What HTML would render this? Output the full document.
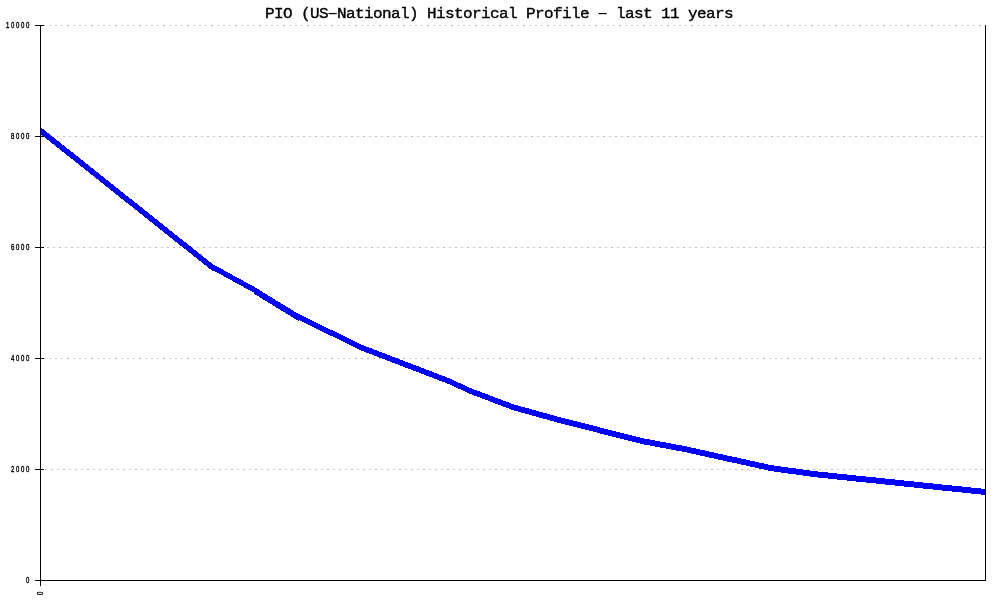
<!DOCTYPE html>
<html><head><meta charset="utf-8"><title>PIO (US-National) Historical Profile - last 11 years</title>
<style>
html,body{margin:0;padding:0;background:#fff;overflow:hidden}
svg{display:block}
.t{font-family:"Liberation Mono","DejaVu Sans Mono",monospace;font-weight:bold;font-size:15px;fill:#000}
.s{font-family:"Liberation Sans","DejaVu Sans",sans-serif;font-weight:normal;font-size:8.4px;fill:#000;stroke:#000}
</style></head><body>
<svg width="1000" height="600" viewBox="0 0 1000 600">
<rect width="1000" height="600" fill="#fff"/>

<g shape-rendering="crispEdges" stroke="#bebebe" stroke-width="1" stroke-dasharray="2 4">
<line x1="43" y1="25.5" x2="985" y2="25.5"/>
<line x1="45" y1="136.5" x2="985" y2="136.5"/>
<line x1="47" y1="247.5" x2="985" y2="247.5"/>
<line x1="43" y1="358.5" x2="985" y2="358.5"/>
<line x1="45" y1="469.5" x2="985" y2="469.5"/>
</g>
<g shape-rendering="crispEdges" fill="#0000ff">
<rect x="40" y="127" width="1" height="7"/>
<rect x="41" y="128" width="1" height="7"/>
<rect x="42" y="129" width="2" height="7"/>
<rect x="44" y="130" width="1" height="7"/>
<rect x="45" y="131" width="1" height="7"/>
<rect x="46" y="132" width="1" height="7"/>
<rect x="47" y="133" width="2" height="7"/>
<rect x="49" y="134" width="1" height="7"/>
<rect x="50" y="135" width="1" height="7"/>
<rect x="51" y="136" width="1" height="7"/>
<rect x="52" y="137" width="2" height="7"/>
<rect x="54" y="138" width="1" height="7"/>
<rect x="55" y="139" width="1" height="7"/>
<rect x="56" y="140" width="1" height="7"/>
<rect x="57" y="141" width="2" height="7"/>
<rect x="59" y="142" width="1" height="7"/>
<rect x="60" y="143" width="1" height="7"/>
<rect x="61" y="144" width="1" height="7"/>
<rect x="62" y="145" width="2" height="7"/>
<rect x="64" y="146" width="1" height="7"/>
<rect x="65" y="147" width="1" height="7"/>
<rect x="66" y="148" width="1" height="7"/>
<rect x="67" y="149" width="2" height="7"/>
<rect x="69" y="150" width="1" height="7"/>
<rect x="70" y="151" width="1" height="7"/>
<rect x="71" y="152" width="2" height="7"/>
<rect x="73" y="153" width="1" height="7"/>
<rect x="74" y="154" width="1" height="7"/>
<rect x="75" y="155" width="1" height="7"/>
<rect x="76" y="156" width="2" height="7"/>
<rect x="78" y="157" width="1" height="7"/>
<rect x="79" y="158" width="1" height="7"/>
<rect x="80" y="159" width="1" height="7"/>
<rect x="81" y="160" width="2" height="7"/>
<rect x="83" y="161" width="1" height="7"/>
<rect x="84" y="162" width="1" height="7"/>
<rect x="85" y="163" width="1" height="7"/>
<rect x="86" y="164" width="2" height="7"/>
<rect x="88" y="165" width="1" height="7"/>
<rect x="89" y="166" width="1" height="7"/>
<rect x="90" y="167" width="1" height="7"/>
<rect x="91" y="168" width="2" height="7"/>
<rect x="93" y="169" width="1" height="7"/>
<rect x="94" y="170" width="1" height="7"/>
<rect x="95" y="171" width="1" height="7"/>
<rect x="96" y="172" width="2" height="7"/>
<rect x="98" y="173" width="1" height="7"/>
<rect x="99" y="174" width="1" height="7"/>
<rect x="100" y="175" width="1" height="7"/>
<rect x="101" y="176" width="2" height="7"/>
<rect x="103" y="177" width="1" height="7"/>
<rect x="104" y="178" width="1" height="7"/>
<rect x="105" y="179" width="1" height="7"/>
<rect x="106" y="180" width="2" height="7"/>
<rect x="108" y="181" width="1" height="7"/>
<rect x="109" y="182" width="1" height="7"/>
<rect x="110" y="183" width="1" height="7"/>
<rect x="111" y="184" width="2" height="7"/>
<rect x="113" y="185" width="1" height="7"/>
<rect x="114" y="186" width="1" height="7"/>
<rect x="115" y="187" width="1" height="7"/>
<rect x="116" y="188" width="2" height="7"/>
<rect x="118" y="189" width="1" height="7"/>
<rect x="119" y="190" width="1" height="7"/>
<rect x="120" y="191" width="1" height="7"/>
<rect x="121" y="192" width="2" height="7"/>
<rect x="123" y="193" width="1" height="7"/>
<rect x="124" y="194" width="1" height="7"/>
<rect x="125" y="195" width="1" height="7"/>
<rect x="126" y="196" width="2" height="7"/>
<rect x="128" y="197" width="1" height="7"/>
<rect x="129" y="198" width="1" height="7"/>
<rect x="130" y="199" width="2" height="7"/>
<rect x="132" y="200" width="1" height="7"/>
<rect x="133" y="201" width="1" height="7"/>
<rect x="134" y="202" width="1" height="7"/>
<rect x="135" y="203" width="2" height="7"/>
<rect x="137" y="204" width="1" height="7"/>
<rect x="138" y="205" width="1" height="7"/>
<rect x="139" y="206" width="1" height="7"/>
<rect x="140" y="207" width="2" height="7"/>
<rect x="142" y="208" width="1" height="7"/>
<rect x="143" y="209" width="1" height="7"/>
<rect x="144" y="210" width="1" height="7"/>
<rect x="145" y="211" width="2" height="7"/>
<rect x="147" y="212" width="1" height="7"/>
<rect x="148" y="213" width="1" height="7"/>
<rect x="149" y="214" width="1" height="7"/>
<rect x="150" y="215" width="2" height="7"/>
<rect x="152" y="216" width="1" height="7"/>
<rect x="153" y="217" width="1" height="7"/>
<rect x="154" y="218" width="1" height="7"/>
<rect x="155" y="219" width="2" height="7"/>
<rect x="157" y="220" width="1" height="7"/>
<rect x="158" y="221" width="1" height="7"/>
<rect x="159" y="222" width="1" height="7"/>
<rect x="160" y="223" width="2" height="7"/>
<rect x="162" y="224" width="1" height="7"/>
<rect x="163" y="225" width="1" height="7"/>
<rect x="164" y="226" width="1" height="7"/>
<rect x="165" y="227" width="2" height="7"/>
<rect x="167" y="228" width="1" height="7"/>
<rect x="168" y="229" width="1" height="7"/>
<rect x="169" y="230" width="1" height="7"/>
<rect x="170" y="231" width="2" height="7"/>
<rect x="172" y="232" width="1" height="7"/>
<rect x="173" y="233" width="1" height="7"/>
<rect x="174" y="234" width="1" height="7"/>
<rect x="175" y="235" width="2" height="7"/>
<rect x="177" y="236" width="1" height="7"/>
<rect x="178" y="237" width="1" height="7"/>
<rect x="179" y="238" width="1" height="7"/>
<rect x="180" y="239" width="2" height="7"/>
<rect x="182" y="240" width="1" height="7"/>
<rect x="183" y="241" width="1" height="7"/>
<rect x="184" y="242" width="2" height="7"/>
<rect x="186" y="243" width="1" height="7"/>
<rect x="187" y="244" width="1" height="7"/>
<rect x="188" y="245" width="1" height="7"/>
<rect x="189" y="246" width="2" height="7"/>
<rect x="191" y="247" width="1" height="7"/>
<rect x="192" y="248" width="1" height="7"/>
<rect x="193" y="249" width="1" height="7"/>
<rect x="194" y="250" width="2" height="7"/>
<rect x="196" y="251" width="1" height="7"/>
<rect x="197" y="252" width="1" height="7"/>
<rect x="198" y="253" width="1" height="7"/>
<rect x="199" y="254" width="2" height="7"/>
<rect x="201" y="255" width="1" height="7"/>
<rect x="202" y="256" width="1" height="7"/>
<rect x="203" y="257" width="1" height="7"/>
<rect x="204" y="258" width="2" height="7"/>
<rect x="206" y="259" width="1" height="7"/>
<rect x="207" y="260" width="1" height="7"/>
<rect x="208" y="261" width="1" height="7"/>
<rect x="209" y="262" width="2" height="7"/>
<rect x="211" y="263" width="1" height="7"/>
<rect x="212" y="264" width="1" height="7"/>
<rect x="213" y="265" width="2" height="6"/>
<rect x="215" y="266" width="2" height="6"/>
<rect x="217" y="267" width="2" height="6"/>
<rect x="219" y="268" width="2" height="6"/>
<rect x="221" y="269" width="2" height="6"/>
<rect x="223" y="270" width="1" height="6"/>
<rect x="224" y="271" width="2" height="6"/>
<rect x="226" y="272" width="2" height="6"/>
<rect x="228" y="273" width="2" height="6"/>
<rect x="230" y="274" width="2" height="6"/>
<rect x="232" y="275" width="1" height="6"/>
<rect x="233" y="276" width="2" height="6"/>
<rect x="235" y="277" width="2" height="6"/>
<rect x="237" y="278" width="2" height="6"/>
<rect x="239" y="279" width="2" height="6"/>
<rect x="241" y="280" width="2" height="6"/>
<rect x="243" y="281" width="1" height="6"/>
<rect x="244" y="282" width="2" height="6"/>
<rect x="246" y="283" width="2" height="6"/>
<rect x="248" y="284" width="2" height="6"/>
<rect x="250" y="285" width="2" height="6"/>
<rect x="252" y="286" width="2" height="6"/>
<rect x="254" y="287" width="1" height="7"/>
<rect x="255" y="288" width="2" height="7"/>
<rect x="257" y="289" width="2" height="7"/>
<rect x="259" y="290" width="1" height="7"/>
<rect x="260" y="291" width="2" height="7"/>
<rect x="262" y="292" width="1" height="7"/>
<rect x="263" y="293" width="2" height="7"/>
<rect x="265" y="294" width="2" height="7"/>
<rect x="267" y="295" width="1" height="7"/>
<rect x="268" y="296" width="2" height="7"/>
<rect x="270" y="297" width="2" height="7"/>
<rect x="272" y="298" width="1" height="7"/>
<rect x="273" y="299" width="2" height="7"/>
<rect x="275" y="300" width="1" height="7"/>
<rect x="276" y="301" width="2" height="7"/>
<rect x="278" y="302" width="2" height="7"/>
<rect x="280" y="303" width="1" height="7"/>
<rect x="281" y="304" width="2" height="7"/>
<rect x="283" y="305" width="2" height="7"/>
<rect x="285" y="306" width="1" height="7"/>
<rect x="286" y="307" width="2" height="7"/>
<rect x="288" y="308" width="2" height="7"/>
<rect x="290" y="309" width="1" height="7"/>
<rect x="291" y="310" width="2" height="7"/>
<rect x="293" y="311" width="1" height="7"/>
<rect x="294" y="312" width="2" height="7"/>
<rect x="296" y="313" width="2" height="7"/>
<rect x="298" y="314" width="1" height="7"/>
<rect x="299" y="314" width="1" height="6"/>
<rect x="300" y="315" width="2" height="6"/>
<rect x="302" y="316" width="2" height="6"/>
<rect x="304" y="317" width="2" height="6"/>
<rect x="306" y="318" width="2" height="6"/>
<rect x="308" y="319" width="2" height="6"/>
<rect x="310" y="320" width="2" height="6"/>
<rect x="312" y="321" width="2" height="6"/>
<rect x="314" y="322" width="2" height="6"/>
<rect x="316" y="323" width="2" height="6"/>
<rect x="318" y="324" width="2" height="6"/>
<rect x="320" y="325" width="2" height="6"/>
<rect x="322" y="326" width="2" height="6"/>
<rect x="324" y="327" width="2" height="6"/>
<rect x="326" y="328" width="2" height="6"/>
<rect x="328" y="329" width="2" height="6"/>
<rect x="330" y="330" width="3" height="6"/>
<rect x="333" y="331" width="2" height="6"/>
<rect x="335" y="332" width="2" height="6"/>
<rect x="337" y="333" width="2" height="6"/>
<rect x="339" y="334" width="2" height="6"/>
<rect x="341" y="335" width="2" height="6"/>
<rect x="343" y="336" width="2" height="6"/>
<rect x="345" y="337" width="2" height="6"/>
<rect x="347" y="338" width="2" height="6"/>
<rect x="349" y="339" width="2" height="6"/>
<rect x="351" y="340" width="2" height="6"/>
<rect x="353" y="341" width="2" height="6"/>
<rect x="355" y="342" width="2" height="6"/>
<rect x="357" y="343" width="2" height="6"/>
<rect x="359" y="344" width="2" height="6"/>
<rect x="361" y="345" width="3" height="6"/>
<rect x="364" y="346" width="2" height="6"/>
<rect x="366" y="347" width="3" height="6"/>
<rect x="369" y="348" width="3" height="6"/>
<rect x="372" y="349" width="2" height="6"/>
<rect x="374" y="350" width="3" height="6"/>
<rect x="377" y="351" width="2" height="6"/>
<rect x="379" y="352" width="3" height="6"/>
<rect x="382" y="353" width="3" height="6"/>
<rect x="385" y="354" width="2" height="6"/>
<rect x="387" y="355" width="3" height="6"/>
<rect x="390" y="356" width="2" height="6"/>
<rect x="392" y="357" width="3" height="6"/>
<rect x="395" y="358" width="3" height="6"/>
<rect x="398" y="359" width="2" height="6"/>
<rect x="400" y="360" width="3" height="6"/>
<rect x="403" y="361" width="2" height="6"/>
<rect x="405" y="362" width="3" height="6"/>
<rect x="408" y="363" width="3" height="6"/>
<rect x="411" y="364" width="2" height="6"/>
<rect x="413" y="365" width="3" height="6"/>
<rect x="416" y="366" width="3" height="6"/>
<rect x="419" y="367" width="2" height="6"/>
<rect x="421" y="368" width="3" height="6"/>
<rect x="424" y="369" width="2" height="6"/>
<rect x="426" y="370" width="3" height="6"/>
<rect x="429" y="371" width="3" height="6"/>
<rect x="432" y="372" width="2" height="6"/>
<rect x="434" y="373" width="3" height="6"/>
<rect x="437" y="374" width="2" height="6"/>
<rect x="439" y="375" width="3" height="6"/>
<rect x="442" y="376" width="3" height="6"/>
<rect x="445" y="377" width="2" height="6"/>
<rect x="447" y="378" width="3" height="6"/>
<rect x="450" y="379" width="2" height="6"/>
<rect x="452" y="380" width="2" height="6"/>
<rect x="454" y="381" width="2" height="6"/>
<rect x="456" y="382" width="2" height="6"/>
<rect x="458" y="383" width="3" height="6"/>
<rect x="461" y="384" width="2" height="6"/>
<rect x="463" y="385" width="2" height="6"/>
<rect x="465" y="386" width="2" height="6"/>
<rect x="467" y="387" width="2" height="6"/>
<rect x="469" y="388" width="3" height="6"/>
<rect x="472" y="389" width="2" height="6"/>
<rect x="474" y="390" width="3" height="6"/>
<rect x="477" y="391" width="3" height="6"/>
<rect x="480" y="392" width="2" height="6"/>
<rect x="482" y="393" width="3" height="6"/>
<rect x="485" y="394" width="3" height="6"/>
<rect x="488" y="395" width="2" height="6"/>
<rect x="490" y="396" width="3" height="6"/>
<rect x="493" y="397" width="2" height="6"/>
<rect x="495" y="398" width="3" height="6"/>
<rect x="498" y="399" width="3" height="6"/>
<rect x="501" y="400" width="2" height="6"/>
<rect x="503" y="401" width="3" height="6"/>
<rect x="506" y="402" width="3" height="6"/>
<rect x="509" y="403" width="2" height="6"/>
<rect x="511" y="404" width="3" height="6"/>
<rect x="514" y="405" width="4" height="6"/>
<rect x="518" y="406" width="3" height="6"/>
<rect x="521" y="407" width="4" height="6"/>
<rect x="525" y="408" width="4" height="6"/>
<rect x="529" y="409" width="3" height="6"/>
<rect x="532" y="410" width="4" height="6"/>
<rect x="536" y="411" width="3" height="6"/>
<rect x="539" y="412" width="4" height="6"/>
<rect x="543" y="413" width="4" height="6"/>
<rect x="547" y="414" width="3" height="6"/>
<rect x="550" y="415" width="4" height="6"/>
<rect x="554" y="416" width="3" height="6"/>
<rect x="557" y="417" width="4" height="6"/>
<rect x="561" y="418" width="4" height="6"/>
<rect x="565" y="419" width="4" height="6"/>
<rect x="569" y="420" width="4" height="6"/>
<rect x="573" y="421" width="4" height="6"/>
<rect x="577" y="422" width="4" height="6"/>
<rect x="581" y="423" width="4" height="6"/>
<rect x="585" y="424" width="4" height="6"/>
<rect x="589" y="425" width="4" height="6"/>
<rect x="593" y="426" width="4" height="6"/>
<rect x="597" y="427" width="3" height="6"/>
<rect x="600" y="428" width="4" height="6"/>
<rect x="604" y="429" width="4" height="6"/>
<rect x="608" y="430" width="4" height="6"/>
<rect x="612" y="431" width="4" height="6"/>
<rect x="616" y="432" width="4" height="6"/>
<rect x="620" y="433" width="4" height="6"/>
<rect x="624" y="434" width="4" height="6"/>
<rect x="628" y="435" width="4" height="6"/>
<rect x="632" y="436" width="4" height="6"/>
<rect x="636" y="437" width="4" height="6"/>
<rect x="640" y="438" width="4" height="6"/>
<rect x="644" y="439" width="6" height="6"/>
<rect x="650" y="440" width="5" height="6"/>
<rect x="655" y="441" width="5" height="6"/>
<rect x="660" y="442" width="6" height="6"/>
<rect x="666" y="443" width="5" height="6"/>
<rect x="671" y="444" width="5" height="6"/>
<rect x="676" y="445" width="6" height="6"/>
<rect x="682" y="446" width="5" height="6"/>
<rect x="687" y="447" width="4" height="6"/>
<rect x="691" y="448" width="5" height="6"/>
<rect x="696" y="449" width="4" height="6"/>
<rect x="700" y="450" width="5" height="6"/>
<rect x="705" y="451" width="4" height="6"/>
<rect x="709" y="452" width="5" height="6"/>
<rect x="714" y="453" width="4" height="6"/>
<rect x="718" y="454" width="5" height="6"/>
<rect x="723" y="455" width="4" height="6"/>
<rect x="727" y="456" width="5" height="6"/>
<rect x="732" y="457" width="5" height="6"/>
<rect x="737" y="458" width="4" height="6"/>
<rect x="741" y="459" width="5" height="6"/>
<rect x="746" y="460" width="4" height="6"/>
<rect x="750" y="461" width="5" height="6"/>
<rect x="755" y="462" width="4" height="6"/>
<rect x="759" y="463" width="5" height="6"/>
<rect x="764" y="464" width="4" height="6"/>
<rect x="768" y="465" width="6" height="6"/>
<rect x="774" y="466" width="7" height="6"/>
<rect x="781" y="467" width="7" height="6"/>
<rect x="788" y="468" width="8" height="6"/>
<rect x="796" y="469" width="7" height="6"/>
<rect x="803" y="470" width="7" height="6"/>
<rect x="810" y="471" width="8" height="6"/>
<rect x="818" y="472" width="10" height="6"/>
<rect x="828" y="473" width="9" height="6"/>
<rect x="837" y="474" width="10" height="6"/>
<rect x="847" y="475" width="9" height="6"/>
<rect x="856" y="476" width="10" height="6"/>
<rect x="866" y="477" width="10" height="6"/>
<rect x="876" y="478" width="9" height="6"/>
<rect x="885" y="479" width="10" height="6"/>
<rect x="895" y="480" width="9" height="6"/>
<rect x="904" y="481" width="10" height="6"/>
<rect x="914" y="482" width="9" height="6"/>
<rect x="923" y="483" width="10" height="6"/>
<rect x="933" y="484" width="9" height="6"/>
<rect x="942" y="485" width="10" height="6"/>
<rect x="952" y="486" width="10" height="6"/>
<rect x="962" y="487" width="9" height="6"/>
<rect x="971" y="488" width="10" height="6"/>
<rect x="981" y="489" width="5" height="6"/>
</g>
<g shape-rendering="crispEdges" fill="#000">
<rect x="40" y="25" width="1" height="556"/>
<rect x="985" y="25" width="1" height="556"/>
<rect x="40" y="580" width="946" height="1"/>
<rect x="35" y="25" width="9" height="1"/>
<rect x="35" y="136" width="9" height="1"/>
<rect x="35" y="247" width="9" height="1"/>
<rect x="35" y="358" width="9" height="1"/>
<rect x="35" y="469" width="9" height="1"/>
<rect x="35" y="580" width="9" height="1"/>
<rect x="40" y="580" width="1" height="6"/>
</g>
<text class="t" transform="translate(264.9,18) scale(1,0.95)" y="0" xml:space="preserve" style="font-size:16px;font-weight:normal;stroke:#000;stroke-width:0.38px"><tspan x="0 9 18 27 36 45 54">PIO (US</tspan><tspan x="58.92" textLength="17.76" lengthAdjust="spacingAndGlyphs" style="stroke:none">-</tspan><tspan x="72 81 90 99 108 117 126 135 144 153 162 171 180 189 198 207 216 225 234 243 252 261 270 279 288 297 306 315 324">National) Historical Profile </tspan><tspan x="328.92" textLength="17.76" lengthAdjust="spacingAndGlyphs" style="stroke:none">-</tspan><tspan x="342 351 360 369 378 387 396 405 414 423 432 441 450 459"> last 11 years</tspan></text>
<text class="s" transform="translate(5.899999999999999,28.0) scale(0.72,1)" x="0.00 6.94 13.89 20.83 27.78" y="0" style="font-size:8.4px;stroke-width:0.4px">10000</text>
<text class="s" transform="translate(10.899999999999999,139.0) scale(0.72,1)" x="0.00 6.94 13.89 20.83" y="0" style="font-size:8.4px;stroke-width:0.4px">8000</text>
<text class="s" transform="translate(10.899999999999999,250.0) scale(0.72,1)" x="0.00 6.94 13.89 20.83" y="0" style="font-size:8.4px;stroke-width:0.4px">6000</text>
<text class="s" transform="translate(10.899999999999999,361.0) scale(0.72,1)" x="0.00 6.94 13.89 20.83" y="0" style="font-size:8.4px;stroke-width:0.4px">4000</text>
<text class="s" transform="translate(10.899999999999999,472.0) scale(0.72,1)" x="0.00 6.94 13.89 20.83" y="0" style="font-size:8.4px;stroke-width:0.4px">2000</text>
<text class="s" transform="translate(25.9,583.0) scale(0.72,1)" x="0.00" y="0" style="font-size:8.4px;stroke-width:0.4px">0</text>
<text class="s" transform="translate(43.0,595) rotate(-90) scale(0.72,1)" x="0" y="0" style="font-size:8.4px;stroke-width:0.4px">0</text>
</svg></body></html>
